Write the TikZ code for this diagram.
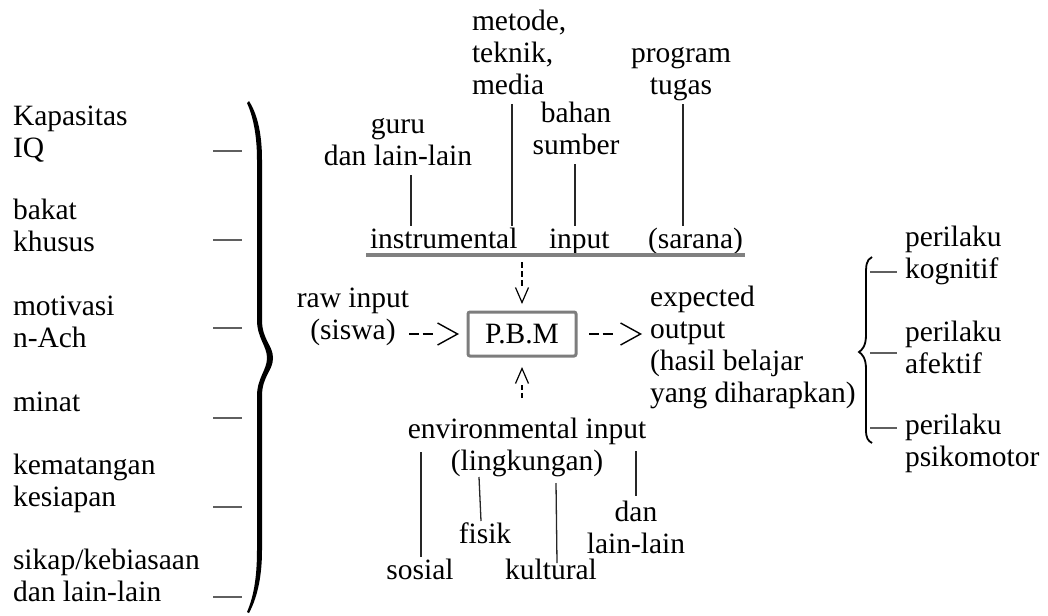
\documentclass[tikz,border=0pt]{standalone}
\usepackage{fontspec}
\setmainfont{Liberation Serif}
\usetikzlibrary{arrows.meta,calc}
\definecolor{ulgray}{RGB}{128,128,128}
\definecolor{boxgray}{RGB}{125,125,125}
\definecolor{tickgray}{RGB}{95,95,95}
\begin{document}
\begin{tikzpicture}[x=1pt,y=-1pt,
  every node/.style={font=\fontsize{29.5}{32}\selectfont, inner sep=0pt, outer sep=0pt},
  lbl/.style={align=left, anchor=west},
  cl/.style={align=center},
  conn/.style={line width=1.3pt, black!85},
  tick/.style={line width=1.3pt, tickgray},
  harrow/.style={line width=1.5pt, dash pattern=on 10pt off 3.5pt on 10pt off 40pt,
    -{Straight Barb[length=20pt,width=22pt,line width=1.4pt]}},
  varrow/.style={line width=1.3pt, dash pattern=on 6pt off 3pt on 6pt off 3pt on 6pt off 40pt,
    -{Straight Barb[length=15pt,width=13pt,line width=1.2pt]}},
  varrowb/.style={line width=1.3pt, dash pattern=on 5pt off 3pt on 5pt off 40pt,
    -{Straight Barb[length=15pt,width=13pt,line width=1.2pt]}},
  pbmbox/.style={draw=boxgray, line width=3pt, rounded corners=2pt, minimum width=108pt, minimum height=44pt}
]
\useasboundingbox (0,0) rectangle (1048,615);

% ---------- left column ----------
\node[lbl] (kap) at (13,135) {Kapasitas\strut\\IQ\strut};
\node[lbl] (bak) at (13,229) {bakat\strut\\khusus\strut};
\node[lbl] (mot) at (13,325) {motivasi\strut\\n-Ach\strut};
\node[lbl] (min) at (13,405) {minat\strut};
\node[lbl] (kem) at (13,484) {kematangan\strut\\kesiapan\strut};
\node[lbl] (sik) at (13,579) {sikap/kebiasaan\strut\\dan lain-lain\strut};

\coordinate (t1) at (213,151);
\coordinate (t2) at (213,240);
\coordinate (t3) at (213,328);
\coordinate (t4) at (213,418);
\coordinate (t5) at (213,507);
\coordinate (t6) at (213,597);
\foreach \t in {t1,t2,t3,t4,t5,t6} \draw[tick] (\t) -- ++(29,0);

% big brace
\fill[black] (249,101) .. controls (256,112) and (262,130) .. (262,160) -- (262,320)
  .. controls (262,340) and (273,345) .. (273,358)
  .. controls (273,371) and (262,376) .. (262,396) -- (262,550)
  .. controls (262,580) and (256,600) .. (249,613)
  -- (247,612) .. controls (253,598) and (257,580) .. (257,550) -- (257,396)
  .. controls (257,378) and (267,370) .. (267,358)
  .. controls (267,346) and (257,338) .. (257,320) -- (257,160)
  .. controls (257,132) and (252,114) .. (247,103) -- cycle;

% ---------- top ----------
\node[lbl] (met) at (472,56) {metode,\strut\\teknik,\strut\\media\strut};
\node[cl] (prog) at (681,72.5) {program\strut\\tugas\strut};
\node[cl] (bah) at (576,132) {bahan\strut\\sumber\strut};
\node[cl] (guru) at (398,143) {guru\strut\\dan lain-lain\strut};
\node[anchor=west] (ins) at (370,242) {instrumental\strut};
\node[anchor=west] (inp) at (549,242) {input\strut};
\node[anchor=west] (sar) at (648,242) {(sarana)\strut};

\coordinate (xg) at (411,0);
\coordinate (xm) at (512,0);
\coordinate (xb) at (575,0);
\coordinate (xt) at (683,0);
\draw[conn] (guru.south -| xg) -- (ins.north -| xg);
\draw[conn] (met.south -| xm) -- (ins.north -| xm);
\draw[conn] (bah.south -| xb) -- (inp.north -| xb);
\draw[conn] (prog.south -| xt) -- (sar.north -| xt);

\coordinate (ulA) at (366,255);
\coordinate (ulB) at (745,255);
\draw[line width=4pt, ulgray] (ulA) -- (ulB);

% ---------- centre ----------
\node[pbmbox] (pbm) at (522,334) {P.B.M};
\node[cl] (raw) at (353,317.5) {raw input\strut\\(siswa)\strut};
\node[lbl] (exp) at (650,348.5) {expected\strut\\output\strut\\(hasil belajar\strut\\yang diharapkan)\strut};

\coordinate (ta) at (522,262);
\coordinate (ba) at (522,398);
\draw[varrow] (ta) -- ($(pbm.north)+(0,-8)$);
\draw[varrowb] (ba) -- ($(pbm.south)+(0,11)$);
\draw[harrow] (raw.east |- pbm.west) -- ($(pbm.west)+(-9,0)$);
\draw[harrow] ($(pbm.east)+(13,0)$) -- ($(exp.west |- pbm.east)+(-8,0)$);

% ---------- right ----------
\draw[line width=1.8pt] (872,257) .. controls (866,260) and (866,266) .. (866,275) -- (866,335)
  .. controls (866,346) and (862,350) .. (859,352)
  .. controls (862,354) and (866,358) .. (866,369) -- (866,430)
  .. controls (866,438) and (868,441) .. (872,443);
\coordinate (r1) at (870,272);
\coordinate (r2) at (870,353);
\coordinate (r3) at (870,428);
\foreach \t in {r1,r2,r3} \draw[tick] (\t) -- ++(27,0);
\node[lbl] (kog) at (905,256) {perilaku\strut\\kognitif\strut};
\node[lbl] (afe) at (905,351) {perilaku\strut\\afektif\strut};
\node[lbl] (psi) at (905,444) {perilaku\strut\\psikomotor\strut};

% ---------- bottom ----------
\node[cl] (env) at (527,448.5) {environmental input\strut\\(lingkungan)\strut};
\node (sos) at (420,573) {sosial\strut};
\node (fis) at (485,537) {fisik\strut};
\node (kul) at (551,573) {kultural\strut};
\node[cl] (dll) at (636,531) {dan\strut\\lain-lain\strut};

\coordinate (s0) at (421,452);
\coordinate (f0) at (479,477);
\coordinate (f1) at (481,0);
\coordinate (k0) at (556,483);
\coordinate (d0) at (636,451);
\draw[conn] (s0) -- (sos.north -| s0);
\draw[conn] (f0) -- (fis.north -| f1);
\draw[conn] (k0) -- ($(kul.north)+(6,6)$);
\draw[conn] (d0) -- ($(dll.north)+(0,-3)$);
\end{tikzpicture}
\end{document}
